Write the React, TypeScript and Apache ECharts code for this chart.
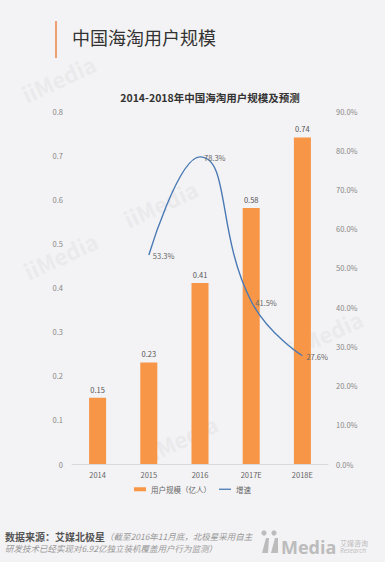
import React, { useEffect, useRef } from "react";
import * as echarts from "echarts";

const categories = ["2014", "2015", "2016", "2017E", "2018E"];
const userScale = [0.15, 0.23, 0.41, 0.58, 0.74];
const growth: (number | null)[] = [null, 53.3, 78.3, 41.5, 27.6];

const pageTitle = "中国海淘用户规模";
const chartTitle = "2014-2018年中国海淘用户规模及预测";
const sourceLabel = "数据来源：艾媒北极星";
const sourceNote1 = "（截至2016年11月底，北极星采用自主";
const sourceNote2 = "研发技术已经实现对6.92亿独立装机覆盖用户行为监测）";

const FONT = "'Noto Sans CJK SC', 'Open Sans', sans-serif";

export default function App() {
  const ref = useRef<HTMLDivElement>(null);
  useEffect(() => {
    if (!ref.current) return;
    const chart = echarts.init(ref.current, undefined, { renderer: "svg" });
    const wm = (x: number, y: number) => ({
      type: "text",
      x,
      y,
      rotation: (25 * Math.PI) / 180,
      style: { text: "iiMedia", fill: "rgba(205,205,210,0.22)", font: `bold 22px ${FONT}` },
      silent: true,
    });
    chart.setOption({
      animation: false,
      backgroundColor: "#f3f2f4",
      textStyle: { fontFamily: FONT },
      title: {
        text: chartTitle,
        left: 205,
        textAlign: "center",
        top: 87,
        textStyle: { fontSize: 10.5, fontWeight: "bold", color: "#333", fontFamily: FONT },
      },
      grid: { left: 72, right: 57, top: 111, bottom: 104 },
      legend: {
        bottom: 70,
        left: "center",
        itemWidth: 12,
        itemHeight: 4,
        itemGap: 8,
        textStyle: { fontSize: 7.5, color: "#666", fontFamily: FONT },
        data: [
          { name: "用户规模（亿人）", icon: "rect" },
          { name: "增速", icon: "path://M0,0 L12,0 L12,1.3 L0,1.3 Z" },
        ],
      },
      xAxis: {
        type: "category",
        data: categories,
        axisLine: { lineStyle: { color: "#d9d9d9" } },
        axisTick: { show: false },
        axisLabel: { fontSize: 7.5, color: "#666", margin: 7 },
      },
      yAxis: [
        {
          type: "value",
          min: 0,
          max: 0.8,
          interval: 0.1,
          splitLine: { show: false },
          axisLine: { show: false },
          axisTick: { show: false },
          axisLabel: { fontSize: 7.5, color: "#888", margin: 9, formatter: (v: number) => (v === 0 ? "0" : String(+v.toFixed(1))) },
        },
        {
          type: "value",
          min: 0,
          max: 90,
          interval: 10,
          splitLine: { show: false },
          axisLine: { show: false },
          axisTick: { show: false },
          axisLabel: { fontSize: 7.5, color: "#888", margin: 8, formatter: (v: number) => v.toFixed(1) + "%" },
        },
      ],
      series: [
        {
          name: "用户规模（亿人）",
          type: "bar",
          data: userScale,
          barWidth: 17,
          itemStyle: { color: "#f79646" },
          label: { show: true, position: "top", fontSize: 7.5, color: "#555", distance: 5 },
        },
        {
          name: "增速",
          type: "line",
          yAxisIndex: 1,
          data: growth,
          smooth: 0.5,
          showSymbol: true,
          symbol: "circle",
          symbolSize: 0.1,
          lineStyle: { color: "#4a7ab5", width: 1.4 },
          itemStyle: { color: "#4a7ab5" },
          label: {
            show: true,
            position: "right",
            fontSize: 7.5,
            color: "#666",
            distance: 4,
            offset: [0, 1],
            formatter: (p: any) => (p.value == null ? "" : Number(p.value).toFixed(1) + "%"),
          },
        },
      ],
      graphic: [
        wm(18, 85),
        wm(20, 262),
        wm(140, 445),
        wm(120, 210),
        wm(285, 340),
        { type: "rect", shape: { x: 55, y: 21, width: 2, height: 37 }, style: { fill: "#f0a070" } },
        {
          type: "text",
          x: 72,
          y: 28,
          style: { text: pageTitle, fill: "#333", font: `18px ${FONT}` },
        },
        { type: "rect", shape: { x: 0, y: 562, width: 385, height: 6 }, style: { fill: "#ffffff" } },
        {
          type: "text",
          x: 5,
          y: 531,
          style: {
            rich: {
              b: { fontSize: 10, fontWeight: "bold", fill: "#555", fontFamily: FONT },
              i: { fontSize: 8.5, fontStyle: "italic", fill: "#999", fontFamily: FONT },
            },
            text: `{b|${sourceLabel}}{i|${sourceNote1}}`,
          },
        },
        {
          type: "text",
          x: 5,
          y: 544,
          style: { text: sourceNote2, fill: "#999", font: `italic 8.5px ${FONT}` },
        },
        { type: "circle", shape: { cx: 264, cy: 533, r: 2.6 }, style: { fill: "#bcbcbc" } },
        { type: "circle", shape: { cx: 274, cy: 533, r: 2.6 }, style: { fill: "#bcbcbc" } },
        { type: "polygon", shape: { points: [[262, 553], [266, 538], [269, 538], [268, 553]] }, style: { fill: "#bcbcbc" } },
        { type: "polygon", shape: { points: [[271, 553], [275, 538], [278, 538], [278, 553]] }, style: { fill: "#bcbcbc" } },
        {
          type: "text",
          x: 281,
          y: 538,
          style: { text: "Media", fill: "#bcbcbc", font: `bold 18px 'Open Sans', sans-serif` },
        },
        {
          type: "text",
          x: 340,
          y: 539,
          style: { text: "艾媒咨询", fill: "#bcbcbc", font: `7px ${FONT}`, lineHeight: 7 },
        },
        {
          type: "text",
          x: 340,
          y: 547.5,
          style: { text: "Research", fill: "#bcbcbc", font: `italic 6.5px 'Open Sans', sans-serif`, lineHeight: 6.5 },
        },
      ],
    });
    return () => chart.dispose();
  }, []);
  return (
    <div
      ref={ref}
      style={{ position: "fixed", left: 0, top: 0, width: 385, height: 568 }}
    />
  );
}
